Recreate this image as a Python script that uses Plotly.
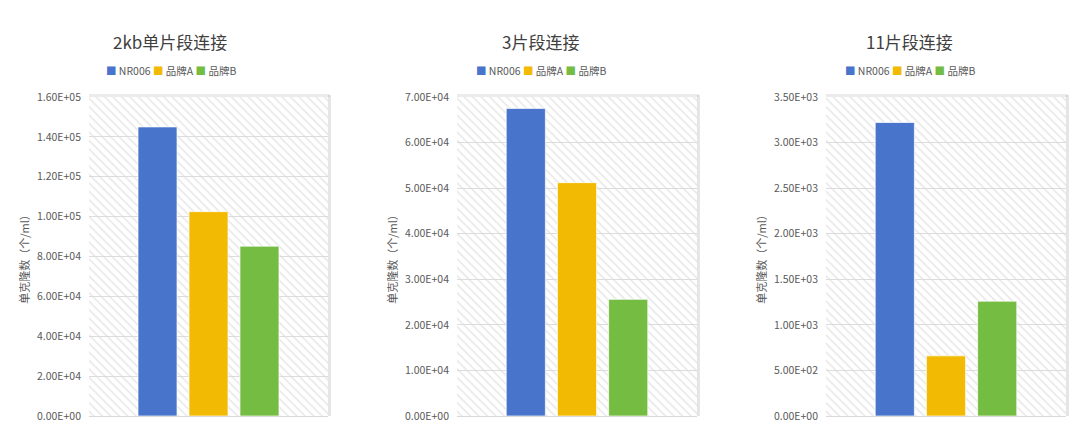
#!/usr/bin/env python3
import base64
import numpy as np
import plotly.graph_objects as go

brands = ["NR006", "品牌A", "品牌B"]
colors = ["#4874CB", "#F2BA02", "#75BD42"]
titles = ["2kb单片段连接", "3片段连接", "11片段连接"]

vals_2kb = [1.45e5, 1.025e5, 8.52e4]
vals_3frag = [6.75e4, 5.12e4, 2.56e4]
vals_11frag = [3.22e3, 6.6e2, 1.26e3]

y_max = [1.6e5, 7.0e4, 3.5e3]
y_step = [2.0e4, 1.0e4, 5.0e2]

y_title = "单克隆数（个/ml）"
FONT = "Noto Sans CJK SC, Noto Sans, sans-serif"

W, H = 1080, 436
# plot area pixel boxes (left, right)
x_boxes = [(89, 328), (457, 697), (826, 1066)]
top_px, bot_px = 97, 416
title_x = [170, 540, 909]


def hatch_uri():
    svg = (
        '<svg xmlns="http://www.w3.org/2000/svg" width="240" height="320">'
        '<defs><pattern id="h" width="6" height="6" patternUnits="userSpaceOnUse" '
        'patternTransform="rotate(45)">'
        '<rect width="6" height="6" fill="white"/>'
        '<line x1="0" y1="0" x2="6" y2="0" stroke="#e8e8e8" stroke-width="3.2"/>'
        '</pattern></defs>'
        '<rect width="240" height="320" fill="url(#h)"/></svg>'
    )
    return "data:image/svg+xml;base64," + base64.b64encode(svg.encode()).decode()


def legend_text():
    # one line legend: coloured square + name, like the office chart
    parts = [f"<span style='color:{c}'>■</span> {b}" for b, c in zip(brands, colors)]
    return " ".join(parts)


fig = go.Figure()
series = [vals_2kb, vals_3frag, vals_11frag]
layout_extra = {}
images = []
shapes = []
annotations = []
uri = hatch_uri()

for k, vals in enumerate(series):
    sfx = "" if k == 0 else str(k + 1)
    for name, v, c in zip(brands, vals, colors):
        fig.add_trace(go.Bar(
            x=[""], y=[v], name=name,
            marker=dict(color=c, line=dict(color="rgba(255,255,255,0.7)", width=1)),
            xaxis="x" + sfx, yaxis="y" + sfx, showlegend=False,
        ))

    x0, x1 = x_boxes[k]
    dom_x = [x0 / W, x1 / W]
    dom_y = [(H - bot_px) / H, (H - top_px) / H]
    ticks = np.arange(0, y_max[k] + y_step[k] / 2, y_step[k])
    layout_extra["xaxis" + sfx] = dict(
        domain=dom_x, anchor="y" + sfx, showticklabels=False, ticks="",
        showline=True, linecolor="#d9d9d9", linewidth=1, showgrid=False,
        fixedrange=True, automargin=False,
    )
    layout_extra["yaxis" + sfx] = dict(
        domain=dom_y, anchor="x" + sfx, range=[0, y_max[k]], automargin=False,
        tickvals=ticks, ticktext=[f"{t:.2E}" for t in ticks],
        tickfont=dict(size=10.5, color="#595959"), ticks="", ticklen=0,
        ticklabelstandoff=7,
        showgrid=True, gridcolor="#dcdcdc", gridwidth=1, zeroline=False,
        title=dict(text=y_title, font=dict(size=11, color="#595959"), standoff=5),
    )
    images.append(dict(
        source=uri, xref="x" + sfx + " domain", yref="y" + sfx + " domain",
        x=0, y=1, sizex=1, sizey=1, xanchor="left", yanchor="top",
        sizing="stretch", layer="below",
    ))
    # soft shadow on top/right edges
    shapes.append(dict(type="line", xref="x" + sfx + " domain", yref="y" + sfx + " domain",
                       x0=1.006, x1=1.006, y0=0.0, y1=1.006,
                       line=dict(color="rgba(0,0,0,0.10)", width=3)))
    shapes.append(dict(type="line", xref="x" + sfx + " domain", yref="y" + sfx + " domain",
                       x0=0.0, x1=1.006, y0=1.005, y1=1.005,
                       line=dict(color="rgba(0,0,0,0.08)", width=3)))
    annotations.append(dict(
        text=titles[k], x=title_x[k] / W, y=(H - 42) / H, xref="paper", yref="paper",
        xanchor="center", yanchor="middle", showarrow=False,
        font=dict(size=17, color="#404040"),
    ))
    annotations.append(dict(
        text=legend_text(), x=(title_x[k] + 1) / W, y=(H - 71) / H,
        xref="paper", yref="paper", xanchor="center", yanchor="middle",
        showarrow=False, font=dict(size=10.5, color="#595959"),
    ))

fig.update_layout(
    width=W, height=H,
    margin=dict(l=0, r=0, t=0, b=0, pad=0),
    paper_bgcolor="white", plot_bgcolor="rgba(0,0,0,0)",
    font=dict(family=FONT, color="#595959"),
    barmode="group", bargap=0.36, bargroupgap=0.235,
    images=images, shapes=shapes, annotations=annotations,
    **layout_extra,
)

fig.write_html(
    "out.html",
    config={"displayModeBar": False},
    post_script="document.body.style.margin='0';",
)
